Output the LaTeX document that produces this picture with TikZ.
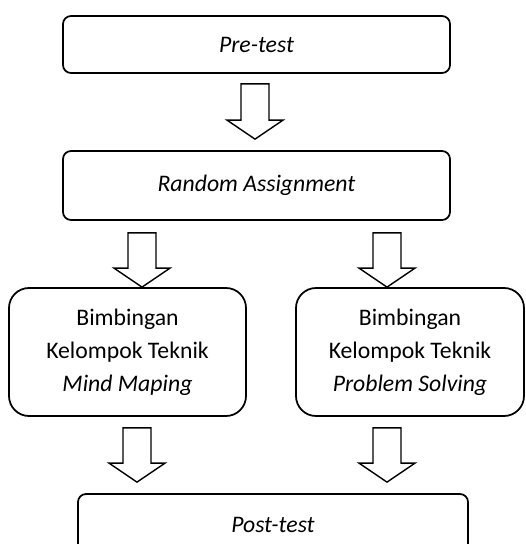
\documentclass[tikz,border=0pt]{standalone}
\usepackage{fontspec}
\setmainfont{Carlito}
\usepackage{tikz}
\usetikzlibrary{calc}

\tikzset{
    box/.style={draw, line width=1pt, rounded corners=0.16cm, inner sep=0pt, align=center},
    bigbox/.style={box, rounded corners=0.4cm},
    arrowline/.style={draw, line width=0.8pt, line join=miter}
}

% block arrow: #1 top of shaft, #2 tip
\newcommand{\bigarrow}[2]{%
    \draw[arrowline] (#1) ++ (-0.28,0) -- ($(#2)+(-0.28,0.38)$) -- ++ (-0.28,0) -- (#2) -- ++ (0.56,0.38) -- ++ (-0.28,0) -- ($(#1)+(0.28,0)$) -- cycle;%
}

\begin{document}
\begin{tikzpicture}[font=\fontsize{13.5}{18.8}\selectfont]

        \clip (0,0) rectangle (10.52,-10.88);

        \node[box, minimum width=7.74cm, minimum height=1.14cm] (pre) at (5.13,-0.89) {\textit{Pre-test}};
        \node[box, minimum width=7.74cm, minimum height=1.38cm] (rand) at (5.13,-3.71) {\textit{Random Assignment}};
        \node[bigbox, minimum width=4.74cm, minimum height=2.56cm] (mind) at (2.55,-7.04) {Bimbingan\\ Kelompok Teknik\\ \textit{Mind Maping}};
        \node[bigbox, minimum width=4.56cm, minimum height=2.56cm] (solv) at (8.2,-7.04) {Bimbingan\\ Kelompok Teknik\\ \textit{Problem Solving}};
        \node[box, minimum width=7.8cm, minimum height=1.24cm] (post) at (5.46,-10.5) {\textit{Post-test}};

        \coordinate (a1s) at ($(pre.south)+(-0.03,-0.2)$);
        \coordinate (a1e) at ($(rand.north)+(-0.03,0.22)$);
        \coordinate (a2s) at ($(rand.south)+(-2.29,-0.24)$);
        \coordinate (a2e) at ($(mind.north)+(0.29,0)$);
        \coordinate (a3s) at ($(rand.south)+(2.61,-0.24)$);
        \coordinate (a3e) at ($(solv.north)+(-0.46,0)$);
        \coordinate (a4s) at ($(mind.south)+(0.19,-0.22)$);
        \coordinate (a4e) at ($(post.north)+(-2.72,0.22)$);
        \coordinate (a5s) at ($(solv.south)+(-0.46,-0.22)$);
        \coordinate (a5e) at ($(post.north)+(2.28,0.22)$);

        \bigarrow{a1s}{a1e}
        \bigarrow{a2s}{a2e}
        \bigarrow{a3s}{a3e}
        \bigarrow{a4s}{a4e}
        \bigarrow{a5s}{a5e}

\end{tikzpicture}
\end{document}
